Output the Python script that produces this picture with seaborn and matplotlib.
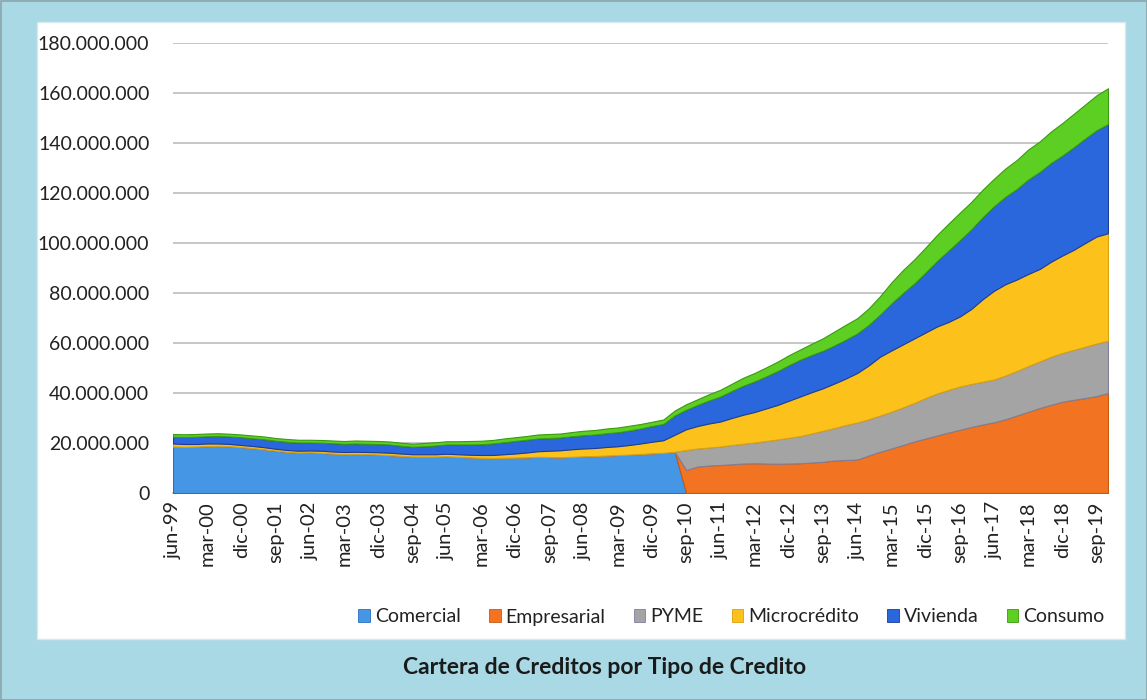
import numpy as np
import pandas as pd
import matplotlib
matplotlib.use("Agg")
import matplotlib.pyplot as plt
from matplotlib.patches import Patch, Rectangle
from matplotlib.ticker import FuncFormatter
import seaborn as sns

# ---- data (millions, quarterly jun-99 .. dic-19) ----
comercial = [18.6, 18.5, 18.6, 18.8, 18.9, 18.7, 18.4, 18.0, 17.5, 17.0,
             16.5, 16.2, 16.3, 16.1, 15.8, 15.6, 15.7, 15.6, 15.4, 15.2,
             14.9, 14.6, 14.6, 14.6, 14.7, 14.5, 14.3, 14.1, 14.0, 14.1,
             14.2, 14.3, 14.5, 14.4, 14.3, 14.5, 14.7, 14.8, 15.0, 15.2,
             15.4, 15.6, 15.9, 16.1, 16.5, 0, 0, 0, 0, 0,
             0, 0, 0, 0, 0, 0, 0, 0, 0, 0,
             0, 0, 0, 0, 0, 0, 0, 0, 0, 0,
             0, 0, 0, 0, 0, 0, 0, 0, 0, 0,
             0, 0, 0]
empresarial = [0, 0, 0, 0, 0, 0, 0, 0, 0, 0,
               0, 0, 0, 0, 0, 0, 0, 0, 0, 0,
               0, 0, 0, 0, 0, 0, 0, 0, 0, 0,
               0, 0, 0, 0, 0, 0, 0, 0, 0, 0,
               0, 0, 0, 0, 0,
               9.2, 10.6, 11.0, 11.2, 11.5, 11.8, 11.9, 11.8, 11.7, 11.8,
               11.9, 12.2, 12.5, 13.0, 13.2, 13.4, 15.0, 16.5, 17.8, 19.2,
               20.6, 21.8, 23.0, 24.2, 25.3, 26.4, 27.4, 28.3, 29.5, 31.0,
               32.5, 34.0, 35.3, 36.5, 37.3, 38.0, 38.8, 40.0]
pyme = [0, 0, 0, 0, 0, 0, 0, 0, 0, 0,
        0, 0, 0, 0, 0, 0, 0, 0, 0, 0,
        0, 0, 0, 0, 0, 0, 0, 0, 0, 0,
        0, 0, 0, 0, 0, 0, 0, 0, 0, 0,
        0, 0, 0, 0, 0,
        8.0, 7.2, 7.2, 7.4, 7.7, 7.9, 8.3, 9.0, 9.7, 10.3,
        10.9, 11.6, 12.4, 13.0, 14.0, 14.8, 14.5, 14.5, 14.7, 15.0,
        15.4, 16.2, 16.8, 17.0, 17.3, 17.2, 17.1, 17.1, 17.5, 17.8,
        18.3, 18.6, 19.2, 19.5, 20.0, 20.5, 21.0, 20.9]
microcredito = [1.2, 1.1, 1.0, 1.0, 0.9, 0.9, 0.8, 0.8, 0.8, 0.7,
                0.7, 0.7, 0.7, 0.8, 0.8, 0.8, 0.8, 0.8, 0.9, 0.9,
                0.9, 0.9, 0.9, 0.9, 1.0, 1.0, 1.0, 1.1, 1.2, 1.4,
                1.6, 1.9, 2.2, 2.5, 2.8, 3.0, 3.1, 3.2, 3.4, 3.5,
                3.8, 4.2, 4.6, 5.0, 6.8, 8.3, 9.0, 9.6, 10.0, 10.8,
                11.6, 12.2, 13.0, 13.8, 14.8, 15.8, 16.5, 17.0, 17.8, 18.6,
                19.8, 21.5, 23.5, 24.5, 25.2, 25.8, 26.2, 26.8, 27.2, 28.0,
                30.0, 33.0, 35.5, 36.5, 36.6, 36.8, 37.0, 38.0, 39.0, 40.0,
                41.5, 42.8, 43.0]
vivienda = [2.7, 2.8, 2.9, 2.9, 3.0, 3.0, 3.1, 3.1, 3.2, 3.2,
            3.3, 3.3, 3.2, 3.2, 3.3, 3.3, 3.3, 3.3, 3.3, 3.3,
            3.1, 3.0, 3.2, 3.5, 3.7, 3.9, 4.1, 4.3, 4.6, 4.8,
            5.0, 5.1, 5.1, 5.1, 5.1, 5.2, 5.3, 5.4, 5.5, 5.6,
            5.8, 6.0, 6.3, 6.5, 7.7, 7.8, 8.4, 9.2, 10.0, 10.8,
            11.6, 12.2, 12.8, 13.5, 14.2, 14.7, 14.9, 15.0, 15.2, 15.5,
            15.8, 16.2, 16.8, 18.8, 20.5, 22.0, 24.0, 26.2, 28.5, 30.5,
            31.8, 32.8, 33.8, 35.0, 36.2, 37.8, 38.8, 39.5, 40.0, 41.0,
            41.8, 42.5, 43.7]
consumo = [1.1, 1.1, 1.1, 1.1, 1.1, 1.1, 1.1, 1.1, 1.1, 1.1,
           1.1, 1.1, 1.1, 1.1, 1.1, 1.1, 1.2, 1.2, 1.2, 1.2,
           1.2, 1.2, 1.3, 1.3, 1.3, 1.3, 1.4, 1.4, 1.4, 1.5,
           1.5, 1.5, 1.6, 1.6, 1.6, 1.7, 1.8, 1.8, 1.9, 1.9,
           1.9, 1.8, 1.7, 1.8, 2.0, 2.2, 2.3, 2.5, 2.7, 2.9,
           3.2, 3.4, 3.6, 3.8, 4.0, 4.1, 4.5, 5.0, 5.6, 6.0,
           6.1, 6.6, 7.4, 8.4, 9.2, 9.6, 10.0, 10.4, 10.8, 11.0,
           11.0, 11.0, 11.0, 11.3, 11.6, 12.0, 12.2, 12.6, 13.0, 13.4,
           13.6, 14.0, 14.3]

tick_labels = ["jun-99", "mar-00", "dic-00", "sep-01", "jun-02", "mar-03", "dic-03",
               "sep-04", "jun-05", "mar-06", "dic-06", "sep-07", "jun-08", "mar-09",
               "dic-09", "sep-10", "jun-11", "mar-12", "dic-12", "sep-13", "jun-14",
               "mar-15", "dic-15", "sep-16", "jun-17", "mar-18", "dic-18", "sep-19"]
series_names = ["Comercial", "Empresarial", "PYME", "Microcrédito", "Vivienda", "Consumo"]
title = "Cartera de Creditos por Tipo de Credito"

colors = ["#4597e6", "#f27321", "#a4a4a4", "#fcc21b", "#2a66dc", "#5ccf22"]
edges = ["#2b6fc0", "#c85a10", "#7f7f9a", "#d9a010", "#1a3d9a", "#3a9a10"]

df = pd.DataFrame({n: np.array(v) * 1e6 for n, v in zip(
    series_names, [comercial, empresarial, pyme, microcredito, vivienda, consumo])})
df["q"] = np.arange(len(df))

sns.set_theme(style="white")
plt.rcParams["font.family"] = ["Lato", "DejaVu Sans"]

W, H = 1147, 700
fig = plt.figure(figsize=(W / 100, H / 100), dpi=100, facecolor="#a9d9e4")

# white panel and outer border (drawn behind the axes)
panel = Rectangle((37 / W, 1 - 639 / H), (1125 - 37) / W, (639 - 22) / H,
                  transform=fig.transFigure, facecolor="white",
                  edgecolor="#d8e8ee", lw=1, zorder=-10)
border = Rectangle((0.5 / W, 0.5 / H), 1 - 1 / W, 1 - 1 / H,
                   transform=fig.transFigure, facecolor="none",
                   edgecolor="#8aa5ad", lw=1.2, zorder=-9)
fig.add_artist(panel)
fig.add_artist(border)

ax = fig.add_axes([173 / W, 1 - 493 / H, (1108 - 173) / W, (493 - 43) / H])
ax.set_zorder(5)
ax.set_facecolor("none")
ax.patch.set_alpha(0)

polys = ax.stackplot(df["q"], *[df[n] for n in series_names], colors=colors,
                     linewidth=0.8, zorder=3)
for p, ec in zip(polys, edges):
    p.set_edgecolor(ec)

ax.set_xlim(0, len(df) - 1)
ax.set_ylim(0, 180e6)
ax.set_yticks(np.arange(0, 180e6 + 1, 20e6))
ax.yaxis.set_major_formatter(FuncFormatter(lambda v, p: f"{v:,.0f}".replace(",", ".")))
ax.set_axisbelow(True)
ax.grid(axis="y", color="#c6c6c6", lw=1.4)
ax.grid(axis="x", visible=False)
ax.set_xticks(np.arange(0, len(df), 3))
ax.set_xticklabels(tick_labels, rotation=90, va="top", ha="center")
ax.tick_params(axis="y", length=0, pad=17, labelsize=14, labelcolor="#222222")
ax.tick_params(axis="x", length=0, pad=6, labelsize=14.5, labelcolor="#222222")
sns.despine(ax=ax, left=True, top=True, right=True, bottom=False)
ax.spines["bottom"].set_color("#bfbfbf")
ax.set_xlabel("")
ax.set_ylabel("")

handles = [Patch(facecolor=c, edgecolor=e, lw=0.6) for c, e in zip(colors, edges)]
fig.legend(handles, series_names, ncol=6, loc="center right",
           bbox_to_anchor=(1122 / W, 1 - 617 / H), frameon=False,
           handlelength=0.6, handleheight=0.6, handletextpad=0.25,
           columnspacing=1.45, fontsize=14, labelcolor="#222222")

fig.text(605 / W, 1 - 668 / H, title, ha="center", va="center",
         fontsize=16.5, fontweight="bold", color="#1a1a1a")

fig.savefig("out.png", dpi=100, facecolor=fig.get_facecolor())
